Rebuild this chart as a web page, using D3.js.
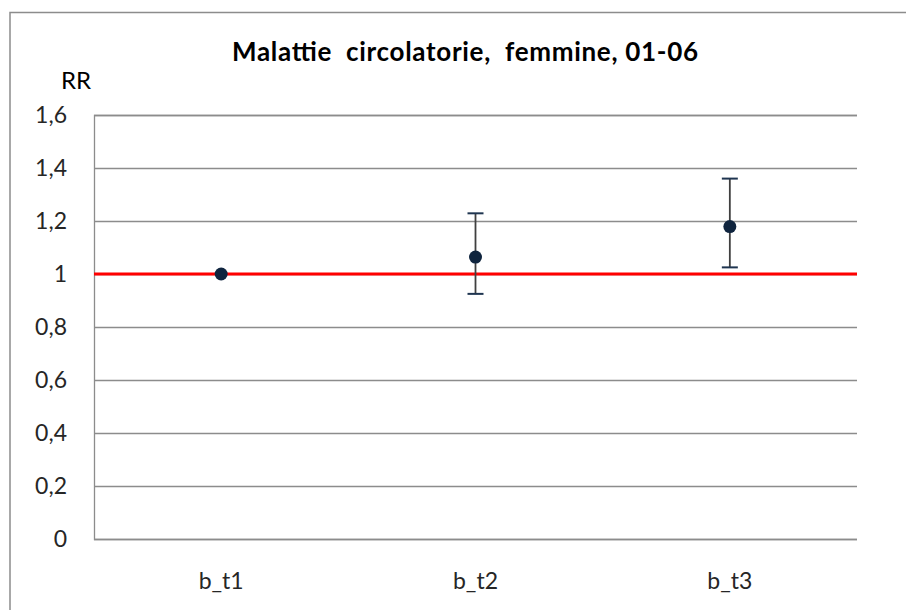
<!DOCTYPE html>
<html><head><meta charset="utf-8">
<script src="https://cdn.jsdelivr.net/npm/d3@7"></script>
<style>body{margin:0;background:#fff}svg{display:block}</style>
</head><body><svg id="c" width="906" height="610"></svg>
<script>
const categories = ["b_t1", "b_t2", "b_t3"];
const rr = [1.0, 1.064, 1.179];
const lower = [1.0, 0.925, 1.025];
const upper = [1.0, 1.229, 1.36];
const yTicks = [0, 0.2, 0.4, 0.6, 0.8, 1.0, 1.2, 1.4, 1.6];
const refValue = 1;
const title = "Malattie  circolatorie,  femmine, 01-06";
const yLabel = "RR";

(function () {
const svg = d3.select("#c");
const font = "Lato, 'Open Sans', sans-serif";
const pL = 94, pR = 857, pT = 115, pB = 539;

// outer chart border (only top/left visible)
svg.append("path").attr("d", "M10,610 V12.5 H906").attr("fill", "none")
  .attr("stroke", "#8c8c8c").attr("stroke-width", 1.5);

const x = d3.scaleBand().domain(categories).range([pL, pR]);
const y = d3.scaleLinear().domain([0, 1.6]).range([pB, pT]);

// gridlines + y tick labels
const yAxis = d3.axisLeft(y).tickValues(yTicks).tickSize(-(pR - pL)).tickPadding(27)
  .tickFormat(d => d3.format(".1~f")(d).replace(".", ","));
const gy = svg.append("g").attr("transform", `translate(${pL},0)`).call(yAxis);
gy.select(".domain").attr("stroke", "#8c8c8c").attr("stroke-width", 1.3);
gy.selectAll(".tick line").attr("stroke", "#8c8c8c").attr("stroke-width", 1.3);
gy.selectAll(".tick text").attr("font-family", font).attr("font-size", 23).attr("fill", "#262626");

// x axis labels
const xAxis = d3.axisBottom(x).tickSize(0).tickPadding(34);
const gx = svg.append("g").attr("transform", `translate(0,${pB})`).call(xAxis);
gx.select(".domain").remove();
gx.selectAll(".tick text").attr("font-family", font).attr("font-size", 23).attr("fill", "#262626");

// reference line
svg.append("line").attr("x1", pL).attr("x2", pR)
  .attr("y1", y(refValue)).attr("y2", y(refValue))
  .attr("stroke", "#ff0000").attr("stroke-width", 3);

// error bars
const data = categories.map((c, i) => ({c, v: rr[i], lo: lower[i], hi: upper[i]}));
const cx = d => x(d.c) + x.bandwidth() / 2;
const eb = data.filter(d => d.hi > d.lo);
svg.selectAll(".eb").data(eb).join("line").attr("class", "eb")
  .attr("x1", cx).attr("x2", cx).attr("y1", d => y(d.hi)).attr("y2", d => y(d.lo))
  .attr("stroke", "#404040").attr("stroke-width", 1.8);
["hi", "lo"].forEach(k => {
  svg.selectAll(".cap" + k).data(eb).join("line").attr("class", "cap" + k)
    .attr("x1", d => cx(d) - 8).attr("x2", d => cx(d) + 8)
    .attr("y1", d => y(d[k])).attr("y2", d => y(d[k]))
    .attr("stroke", "#1f3550").attr("stroke-width", 2);
});

// points
svg.selectAll(".pt").data(data).join("circle").attr("class", "pt")
  .attr("cx", cx).attr("cy", d => y(d.v)).attr("r", 6.5).attr("fill", "#0f243e");

// title
svg.append("text").attr("x", 232).attr("y", 61)
  .attr("font-family", font).attr("font-weight", "bold").attr("font-size", 26)
  .attr("textLength", 466).attr("lengthAdjust", "spacing")
  .attr("fill", "#000").style("white-space", "pre").text(title);

svg.append("text").attr("x", 76).attr("y", 89).attr("text-anchor", "middle")
  .attr("font-family", font).attr("font-size", 24).attr("fill", "#000").text(yLabel);
})();
</script></body></html>
